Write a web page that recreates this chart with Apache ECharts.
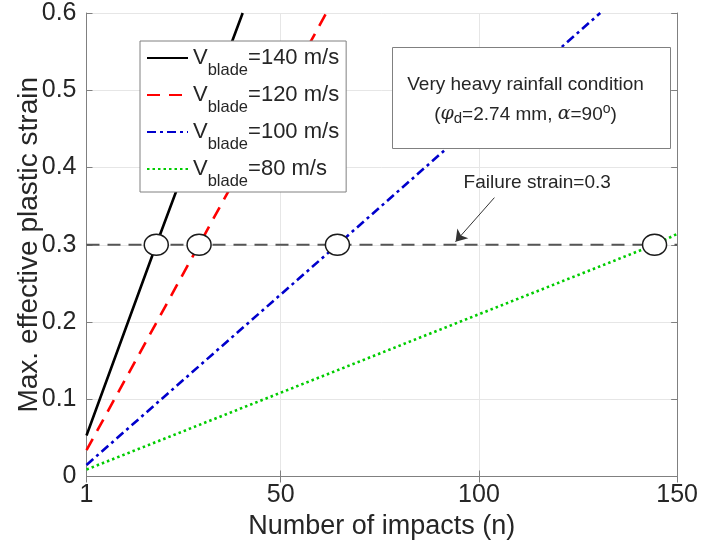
<!DOCTYPE html>
<html>
<head>
<meta charset="utf-8">
<script src="https://cdn.jsdelivr.net/npm/echarts@6/dist/echarts.min.js"></script>
<style>
  html, body { margin: 0; padding: 0; background: #fff; }
  #chart { width: 701px; height: 550px; }
</style>
</head>
<body>
<div id="chart"></div>
<script>
// Blade speeds (m/s) shown in the legend
const bladeSpeeds = ['140', '120', '100', '80'];

// Max. effective plastic strain vs number of impacts, one list per blade speed: [n, strain]
const strain140 = [[1, 0.053], [18.6, 0.30], [40.4, 0.60]];
const strain120 = [[1, 0.034], [29.4, 0.30], [61.5, 0.60]];
const strain100 = [[1, 0.015], [64.3, 0.30], [130.6, 0.60]];
const strain80  = [[1, 0.009], [144.3, 0.30], [150, 0.314]];

// Failure threshold and the impact counts where each curve reaches it
const failureStrain = 0.3;
const failureImpacts = [18.6, 29.4, 64.3, 144.3];

// Axis ranges
const xRange = [1, 150];
const yRange = [0, 0.6];

const FONT = '"Liberation Sans", Arial, sans-serif';
const TEXT = '#262626';
const AXIS = '#808080';

const curves = [
  { name: bladeSpeeds[0], data: strain140, color: '#000000', type: 'solid' },
  { name: bladeSpeeds[1], data: strain120, color: '#ff0000', type: [13, 9] },
  { name: bladeSpeeds[2], data: strain100, color: '#0000cc', type: [9, 4, 3, 4] },
  { name: bladeSpeeds[3], data: strain80,  color: '#00cc00', type: [2.5, 3] }
];

const chart = echarts.init(document.getElementById('chart'), null, { renderer: 'canvas' });

const lineSeries = curves.map(c => ({
  name: c.name,
  type: 'line',
  data: c.data,
  symbol: 'none',
  clip: true,
  z: 3,
  lineStyle: { color: c.color, width: 2.6, type: c.type },
  itemStyle: { color: c.color }
}));

const option = {
  animation: false,
  backgroundColor: '#fff',
  grid: { left: 86.5, right: 20.3, top: 13, bottom: 73.5, containLabel: false },
  legend: {
    orient: 'vertical',
    left: 140,
    top: 41,
    padding: [0, 7, 2, 6],
    itemGap: -1,
    itemWidth: 41,
    itemHeight: 14,
    borderColor: AXIS,
    borderWidth: 1,
    backgroundColor: '#fff',
    itemStyle: { opacity: 0 },
    lineStyle: { opacity: 1 },
    data: bladeSpeeds,
    formatter: name => `{v|V}{s|blade}{v|=${name} m/s}`,
    textStyle: {
      color: TEXT,
      fontFamily: FONT,
      rich: {
        v: { fontSize: 22, fontFamily: FONT, color: TEXT, lineHeight: 34, verticalAlign: 'middle' },
        s: { fontSize: 16.5, fontFamily: FONT, color: TEXT, lineHeight: 16, verticalAlign: 'top', padding: [21, 0, 0, 0] }
      }
    }
  },
  xAxis: [
    {
      type: 'value', min: xRange[0], max: xRange[1], splitNumber: 3,
      name: 'Number of impacts (n)', nameLocation: 'middle', nameGap: 37,
      nameMoveOverlap: false,
      nameTextStyle: { fontSize: 27, fontFamily: FONT, color: TEXT },
      axisLine: { lineStyle: { color: AXIS, width: 1 } },
      axisTick: { inside: true, length: 6, lineStyle: { color: AXIS } },
      axisLabel: { fontSize: 25, fontFamily: FONT, color: TEXT, margin: 6 },
      splitLine: { show: true, lineStyle: { color: '#e6e6e6', width: 1 } }
    },
    {
      type: 'value', min: xRange[0], max: xRange[1], splitNumber: 3, position: 'top',
      axisLine: { lineStyle: { color: AXIS, width: 1 } },
      axisTick: { inside: true, length: 6, lineStyle: { color: AXIS } },
      axisLabel: { show: false },
      splitLine: { show: false }
    }
  ],
  yAxis: [
    {
      type: 'value', min: yRange[0], max: yRange[1], interval: 0.1,
      name: 'Max. effective plastic strain', nameLocation: 'middle', nameGap: 43,
      nameMoveOverlap: false,
      nameTextStyle: { fontSize: 28, fontFamily: FONT, color: TEXT },
      axisLine: { show: true, lineStyle: { color: AXIS, width: 1 } },
      axisTick: { show: true, inside: true, length: 6, lineStyle: { color: AXIS } },
      axisLabel: { fontSize: 25, fontFamily: FONT, color: TEXT, margin: 10 },
      splitLine: { show: true, lineStyle: { color: '#e6e6e6', width: 1 } }
    },
    {
      type: 'value', min: yRange[0], max: yRange[1], interval: 0.1, position: 'right',
      axisLine: { show: true, lineStyle: { color: AXIS, width: 1 } },
      axisTick: { show: true, inside: true, length: 6, lineStyle: { color: AXIS } },
      axisLabel: { show: false },
      splitLine: { show: false }
    }
  ],
  series: [
    {
      name: 'failure',
      type: 'line',
      data: [[xRange[0], failureStrain], [xRange[1], failureStrain]],
      symbol: 'none',
      z: 2,
      lineStyle: { color: '#555555', width: 1.8, type: [13, 8] },
      markLine: {
        silent: true,
        symbol: ['none', 'arrow'],
        symbolSize: 11,
        lineStyle: { color: '#333', width: 1, type: 'solid' },
        itemStyle: { color: '#111' },
        label: { show: false },
        data: [[{ coord: [103.9, 0.361] }, { coord: [94.1, 0.304] }]]
      },
      markPoint: {
        silent: true,
        symbol: 'circle',
        symbolSize: 1,
        itemStyle: { color: 'rgba(0,0,0,0)' },
        label: {
          show: true, position: 'inside',
          formatter: `Failure strain=${failureStrain}`,
          fontSize: 19, fontFamily: FONT, color: TEXT
        },
        data: [{ coord: [114.7, 0.380] }]
      }
    },
    ...lineSeries,
    {
      name: 'failure points',
      type: 'scatter',
      data: failureImpacts.map(n => [n, failureStrain]),
      symbol: 'circle',
      symbolSize: [24, 21],
      z: 5,
      itemStyle: { color: '#ffffff', opacity: 1, borderColor: '#1a1a1a', borderWidth: 1.4 }
    }
  ],
  graphic: [
    {
      type: 'group',
      left: 392,
      top: 47,
      z: 100,
      children: [
        {
          type: 'rect',
          z: 100,
          shape: { x: 0, y: 0, width: 278, height: 101 },
          style: { fill: '#fff', stroke: AXIS, lineWidth: 1 }
        },
        {
          type: 'text',
          z: 101,
          x: 133, y: 37,
          style: {
            text: 'Very heavy rainfall condition',
            font: `19px ${FONT}`, fill: TEXT, align: 'center', verticalAlign: 'middle'
          }
        },
        {
          type: 'text',
          z: 101,
          x: 133, y: 67,
          style: {
            text: '({g|φ}{sb|d}=2.74 mm, {g|α}=90{sp|o})',
            font: `19px ${FONT}`, fill: TEXT, align: 'center', verticalAlign: 'middle',
            rich: {
              g: { fontSize: 19, fontFamily: '"DejaVu Serif", serif', fontStyle: 'italic', fill: TEXT, lineHeight: 24, verticalAlign: 'middle' },
              sb: { fontSize: 15, fontFamily: FONT, fill: TEXT, lineHeight: 15, verticalAlign: 'bottom', padding: [14, 0, 0, 0] },
              sp: { fontSize: 14, fontFamily: FONT, fill: TEXT, lineHeight: 14, verticalAlign: 'top' }
            }
          }
        }
      ]
    }
  ]
};

chart.setOption(option);
</script>
</body>
</html>
